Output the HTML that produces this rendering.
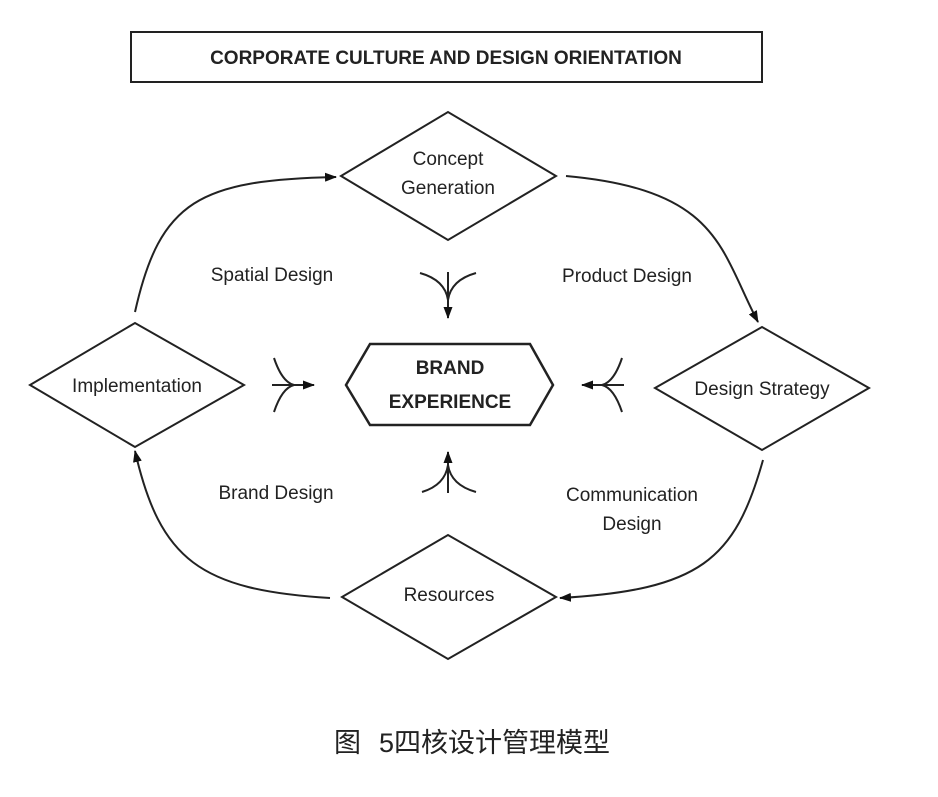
<!DOCTYPE html>
<html><head><meta charset="utf-8"><style>
body{margin:0;background:#fff;width:938px;height:792px;overflow:hidden}
svg text{font-family:"Liberation Sans",sans-serif;fill:#222}
</style></head><body>
<svg width="938" height="792">
<defs><marker id="ah" markerWidth="12" markerHeight="9" refX="11" refY="4.5" orient="auto" markerUnits="userSpaceOnUse"><path d="M0,0 L12,4.5 L0,9 Z" fill="#111"/></marker></defs>
<g stroke="#222" stroke-width="2" fill="none">
<rect x="131" y="32" width="631" height="50" stroke-width="2"/>
<polygon points="341,176 448,112 556,176 448,240"/>
<polygon points="30,385 135,323 244,385 135,447"/>
<polygon points="655,388 762,327 869,388 762,450"/>
<polygon points="342,597 448,535 556,597 448,659"/>
<polygon points="346,385 370,344 530,344 553,385 530,425 370,425" stroke-width="2.5"/>
<path d="M135,312 C160,200 200,180 336,177" marker-end="url(#ah)"/>
<path d="M566,176 C720,190 720,250 758,322" marker-end="url(#ah)"/>
<path d="M763,460 C735,560 700,590 560,598" marker-end="url(#ah)"/>
<path d="M330,598 C200,590 160,560 135,451" marker-end="url(#ah)"/>
<g><path d="M420,273 Q445,280 448,300 Q451,280 476,273 M448,272 L448,318" marker-end="url(#ah)"/></g>
<g><path d="M422,492 Q445,485 448,465 Q451,485 476,492 M448,493 L448,452" marker-end="url(#ah)"/></g>
<g><path d="M274,358 Q282,382 294,385 Q282,388 274,412 M272,385 L314,385" marker-end="url(#ah)"/></g>
<g><path d="M622,358 Q614,382 602,385 Q614,388 622,412 M624,385 L582,385" marker-end="url(#ah)"/></g>
</g>
<text x="446" y="64" font-size="19" font-weight="bold" text-anchor="middle">CORPORATE CULTURE AND DESIGN ORIENTATION</text>
<g font-size="19" text-anchor="middle">
<text x="448" y="165">Concept</text>
<text x="448" y="194">Generation</text>
<text x="137" y="392">Implementation</text>
<text x="762" y="395">Design Strategy</text>
<text x="449" y="601">Resources</text>
<text x="272" y="281">Spatial Design</text>
<text x="627" y="282">Product Design</text>
<text x="276" y="499">Brand Design</text>
<text x="632" y="501">Communication</text>
<text x="632" y="530">Design</text>
<text x="450" y="374" font-weight="bold">BRAND</text>
<text x="450" y="408" font-weight="bold">EXPERIENCE</text>
</g>
<g font-size="27" style="font-family:'Liberation Sans','Noto Sans CJK SC',sans-serif">
<text x="334" y="752" style="font-family:'Liberation Sans','Noto Sans CJK SC',sans-serif">图</text>
<text x="379" y="752" style="font-family:'Liberation Sans','Noto Sans CJK SC',sans-serif">5四核设计管理模型</text>
</g>
</svg>
</body></html>
